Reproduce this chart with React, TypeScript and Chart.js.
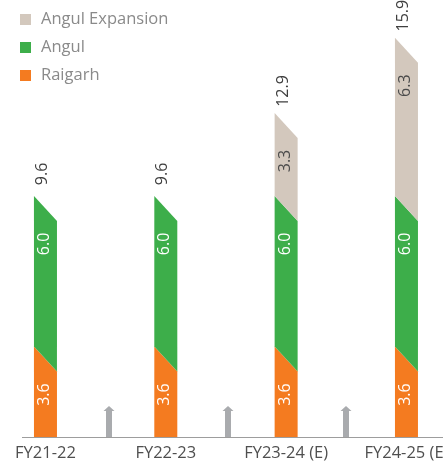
import React, { useEffect, useRef } from 'react';
import { Chart, registerables } from 'chart.js';

Chart.register(...registerables);

const categories = ['FY21-22', 'FY22-23', 'FY23-24 (E)', 'FY24-25 (E)'];
const seriesNames = ['Raigarh', 'Angul', 'Angul Expansion'];
const raigarh = [3.6, 3.6, 3.6, 3.6];
const angul = [6.0, 6.0, 6.0, 6.0];
const angulExpansion: (number | null)[] = [null, null, 3.3, 6.3];
const arrowPositions = [0.53, 1.52, 2.5];

const seriesColors = ['#f47b20', '#3dae4a', '#d3c8bd'];
const innerLabelColors = ['#ffffff', '#ffffff', '#4a4a4a'];
const FONT = "'Open Sans', sans-serif";
const SLANT = 25;

function rotatedText(ctx: CanvasRenderingContext2D, text: string, x: number, y: number, color: string) {
  ctx.save();
  ctx.translate(x, y);
  ctx.rotate(-Math.PI / 2);
  ctx.fillStyle = color;
  ctx.font = `16px ${FONT}`;
  ctx.textAlign = 'center';
  ctx.textBaseline = 'middle';
  ctx.fillText(text, 0, 0);
  ctx.restore();
}

const slantBars = {
  id: 'slantBars',
  beforeDatasetDraw() {
    return false;
  },
  afterDatasetsDraw(chart: any) {
    const ctx: CanvasRenderingContext2D = chart.ctx;
    const bottom = chart.chartArea.bottom;
    const xScale = chart.scales.x;

    // arrows
    ctx.save();
    ctx.fillStyle = '#a9abae';
    arrowPositions.forEach((p) => {
      const x = Math.round(xScale.getPixelForValue(p));
      const tip = bottom - 31;
      const headBase = bottom - 26;
      ctx.beginPath();
      ctx.moveTo(x, tip);
      ctx.lineTo(x + 5.5, headBase);
      ctx.lineTo(x + 3, headBase);
      ctx.lineTo(x + 3, bottom);
      ctx.lineTo(x - 3, bottom);
      ctx.lineTo(x - 3, headBase);
      ctx.lineTo(x - 5.5, headBase);
      ctx.closePath();
      ctx.fill();
    });
    ctx.restore();

    const tops: any[] = [];
    const totals: number[] = categories.map(() => 0);
    chart.data.datasets.forEach((ds: any, di: number) => {
      const meta = chart.getDatasetMeta(di);
      meta.data.forEach((el: any, i: number) => {
        const v = ds.data[i].y;
        if (v == null) return;
        totals[i] += v;
        const { x, y, base, width } = el.getProps(['x', 'y', 'base', 'width'], true);
        const l = x - width / 2;
        const r = x + width / 2;
        const flat = Math.abs(base - bottom) < 0.5;
        ctx.save();
        ctx.beginPath();
        ctx.moveTo(l, y);
        ctx.lineTo(r, y + SLANT);
        ctx.lineTo(r, flat ? base : Math.min(base + SLANT, bottom));
        ctx.lineTo(l, base);
        ctx.closePath();
        ctx.fillStyle = seriesColors[di];
        ctx.fill();
        ctx.restore();
        rotatedText(ctx, v.toFixed(1), x - 1, y + SLANT + 23, innerLabelColors[di]);
        tops[i] = { x, y };
      });
    });
    tops.forEach((t, i) => {
      if (!t) return;
      rotatedText(ctx, totals[i].toFixed(1), t.x - 3, t.y - 22, '#3f3f3f');
    });
  },
};

const sideLegend = {
  id: 'sideLegend',
  afterDraw(chart: any) {
    const ctx: CanvasRenderingContext2D = chart.ctx;
    const items = chart.data.datasets.map((ds: any, i: number) => ({ label: ds.label, color: seriesColors[i] })).reverse();
    ctx.save();
    ctx.font = `16.5px ${FONT}`;
    ctx.textBaseline = 'middle';
    ctx.textAlign = 'left';
    items.forEach((it: any, k: number) => {
      const top = 14 + k * 28;
      ctx.fillStyle = it.color;
      ctx.fillRect(20, top, 11, 11);
      ctx.fillStyle = '#8a8a8a';
      ctx.fillText(it.label, 41, top + 5.5);
    });
    ctx.restore();
  },
};

export default function App() {
  const ref = useRef<HTMLCanvasElement | null>(null);
  useEffect(() => {
    if (!ref.current) return;
    const series = [raigarh, angul, angulExpansion];
    const chart = new Chart(ref.current, {
      type: 'bar',
      data: {
        datasets: series.map((arr, di) => ({
          label: seriesNames[di],
          data: arr.map((v, i) => ({ x: i, y: v })),
          backgroundColor: seriesColors[di],
          barThickness: 23,
        })) as any,
      },
      options: {
        animation: false,
        responsive: false,
        devicePixelRatio: 1,
        layout: { padding: { left: 22, right: 0, top: 0, bottom: 3.2 } },
        plugins: { legend: { display: false }, tooltip: { enabled: false } },
        scales: {
          x: {
            type: 'linear',
            stacked: true,
            offset: false,
            min: -0.195,
            max: 3.528,
            afterBuildTicks: (scale: any) => {
              scale.ticks = categories.map((_, i) => ({ value: i }));
            },
            ticks: {
              autoSkip: false,
              maxRotation: 0,
              padding: 6,
              color: '#4f4f4f',
              font: { family: FONT, size: 16.5 },
              callback: (v: any) => categories[v] ?? '',
            },
            grid: { display: false, drawTicks: false, offset: false },
            border: { display: true, color: '#9d9d9d', width: 1 },
          },
          y: {
            stacked: true,
            display: false,
            min: 0,
            max: 17.4,
          },
        },
      },
      plugins: [slantBars, sideLegend],
    } as any);
    return () => chart.destroy();
  }, []);
  return (
    <div style={{ position: 'absolute', left: 0, top: 0, width: 443, height: 472, overflow: 'hidden', background: '#fff' }}>
      <canvas ref={ref} width={470} height={472} style={{ display: 'block', width: 470, height: 472 }} />
    </div>
  );
}
